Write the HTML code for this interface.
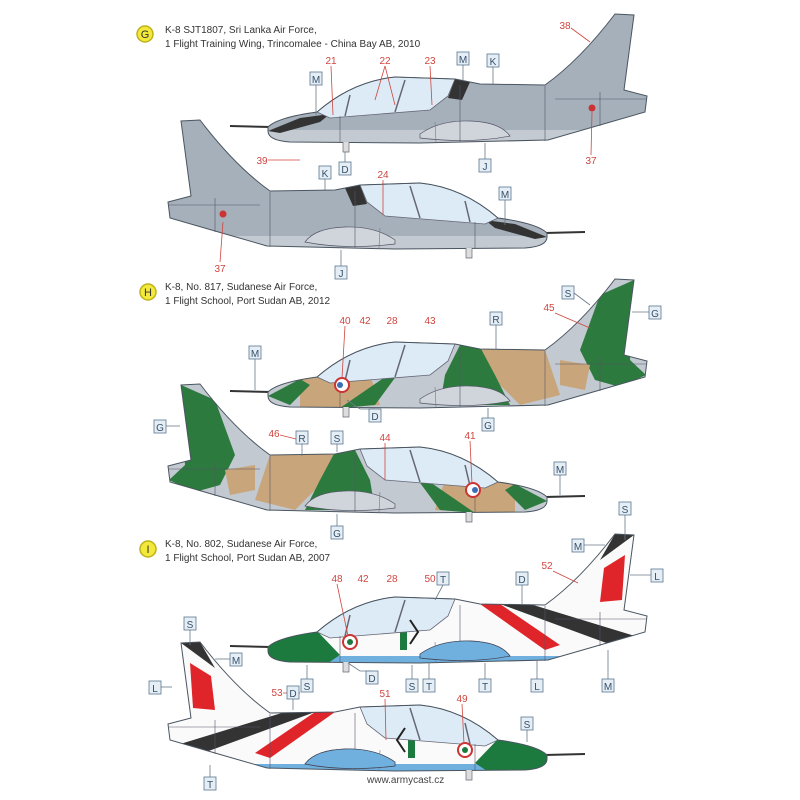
<!DOCTYPE html>
<html><head><meta charset="utf-8"><style>
html,body{margin:0;padding:0;background:#fff;}
svg{display:block;}
.t{font-family:"Liberation Sans",sans-serif;font-size:10px;fill:#333;}
.n{font-family:"Liberation Sans",sans-serif;font-size:10px;fill:#d0453f;text-anchor:middle;}
.b{font-family:"Liberation Sans",sans-serif;font-size:10px;fill:#35506a;text-anchor:middle;}
</style></head><body>
<svg width="800" height="800" viewBox="0 0 800 800" xmlns="http://www.w3.org/2000/svg">
<defs>
<path id="body" d="M268,127 C275,120 295,115 317,112 C340,92 365,80 395,77 L455,79 L480,84 L545,85 Q580,60 615,14 L634,15 L624,90 L647,96 L645,112 L600,125 L548,140 L420,143 L290,142 C275,141 268,137 268,131 Z"/>
<clipPath id="cb"><use href="#body"/></clipPath>
<g id="frame">
<path d="M317,112 C340,92 365,80 395,77 L455,79 L448,96 L430,110 L330,118 Z" fill="#dcebf5" stroke="#667" stroke-width="0.8"/>
<line x1="350" y1="95" x2="345" y2="116" stroke="#667" stroke-width="1.5"/>
<line x1="405" y1="80" x2="395" y2="112" stroke="#667" stroke-width="1.5"/>
<path d="M420,134 Q440,120 470,121 Q500,122 510,136 Q470,144 420,138 Z" fill="#cfd5da" stroke="#556" stroke-width="0.7"/>
<line x1="435" y1="122" x2="436" y2="142" stroke="#778" stroke-width="0.6"/>
<line x1="460" y1="85" x2="460" y2="142" stroke="#556" stroke-width="0.6"/>
<line x1="340" y1="116" x2="340" y2="142" stroke="#556" stroke-width="0.6"/>
<line x1="545" y1="86" x2="545" y2="141" stroke="#556" stroke-width="0.6"/>
<line x1="600" y1="92" x2="600" y2="126" stroke="#556" stroke-width="0.6"/>
<line x1="555" y1="99" x2="646" y2="99" stroke="#556" stroke-width="0.6"/>
<use href="#body" fill="none" stroke="#4a5560" stroke-width="1"/>
<path d="M343,142 L343,152 L349,152 L349,142" fill="#ddd" stroke="#667" stroke-width="0.7"/>
</g>
</defs>

<circle cx="145" cy="34" r="8" fill="#f3e93a" stroke="#bfb21c" stroke-width="1.5"/>
<text x="145" y="38" font-family="Liberation Sans" font-size="11" text-anchor="middle" fill="#333">G</text>
<text class="t" x="165" y="33">K-8 SJT1807, Sri Lanka Air Force,</text>
<text class="t" x="165" y="47">1 Flight Training Wing, Trincomalee - China Bay AB, 2010</text>

<circle cx="148" cy="292" r="8" fill="#f3e93a" stroke="#bfb21c" stroke-width="1.5"/>
<text x="148" y="296" font-family="Liberation Sans" font-size="11" text-anchor="middle" fill="#333">H</text>
<text class="t" x="165" y="290">K-8, No. 817, Sudanese Air Force,</text>
<text class="t" x="165" y="304">1 Flight School, Port Sudan AB, 2012</text>

<circle cx="148" cy="549" r="8" fill="#f3e93a" stroke="#bfb21c" stroke-width="1.5"/>
<text x="148" y="553" font-family="Liberation Sans" font-size="11" text-anchor="middle" fill="#333">I</text>
<text class="t" x="165" y="547">K-8, No. 802, Sudanese Air Force,</text>
<text class="t" x="165" y="561">1 Flight School, Port Sudan AB, 2007</text>

<g id="jg">
<line x1="230" y1="126" x2="270" y2="127" stroke="#333" stroke-width="2"/>
<use href="#body" fill="#a5b0bb"/>
<g clip-path="url(#cb)">
<rect x="260" y="130" width="400" height="20" fill="#c3cad1"/>
<path d="M268,131 L300,118 L330,114 L320,122 L280,133 Z" fill="#333"/>
<path d="M455,79 L470,82 L462,100 L448,98 Z" fill="#333"/>
</g>
<use href="#frame"/>
<circle cx="592" cy="108" r="3.5" fill="#c33"/>
</g>
<use href="#jg" transform="translate(815,106) scale(-1,1)"/>

<g id="jc" transform="translate(0,265)">
<line x1="230" y1="126" x2="270" y2="127" stroke="#333" stroke-width="2"/>
<use href="#body" fill="#c2c9d0"/>
<g clip-path="url(#cb)">
<path d="M300,110 L370,110 L380,140 L300,145 Z" fill="#c8a57a"/>
<path d="M480,84 L545,85 L560,130 L520,140 L500,120 Z" fill="#c8a57a"/>
<path d="M268,131 L300,114 L310,120 L290,140 Z" fill="#2d7a3e"/>
<path d="M385,112 L400,106 L375,140 L340,143 Z" fill="#2d7a3e"/>
<path d="M460,80 L480,82 L495,110 L510,140 L440,140 L445,110 Z" fill="#2d7a3e"/>
<path d="M600,30 L634,15 L630,95 L646,110 L620,122 L595,115 L580,85 Z" fill="#2d7a3e"/>
<path d="M560,95 L590,100 L585,125 L560,120 Z" fill="#c8a57a"/>
</g>
<use href="#frame"/>
<circle cx="342" cy="120" r="7" fill="#fff" stroke="#c33" stroke-width="2"/>
<circle cx="340" cy="120" r="3" fill="#3a6fb8"/>
</g>
<g transform="translate(815,370) scale(-1,1)">
<use href="#jc" transform="translate(0,-265)"/>
</g>

<g id="jw" transform="translate(0,520)">
<line x1="230" y1="126" x2="270" y2="127" stroke="#333" stroke-width="2"/>
<use href="#body" fill="#fafafa"/>
<g clip-path="url(#cb)">
<rect x="260" y="136" width="400" height="12" fill="#6fb0de"/>
<path d="M260,110 L318,112 L340,135 L325,145 L260,145 Z" fill="#1d7a3e"/>
<path d="M480,84 L500,84 L560,125 L545,130 Z" fill="#e0252a"/>
<path d="M500,84 L530,84 L648,120 L620,128 Z" fill="#333"/>
<path d="M604,48 L625,35 L622,80 L600,82 Z" fill="#e0252a"/>
<path d="M615,14 L634,15 L600,40 Z" fill="#333"/>
<rect x="400" y="100" width="7" height="30" fill="#1d7a3e"/>
</g>
<use href="#frame"/>
<path d="M420,134 Q440,120 470,121 Q500,122 510,136 Q470,144 420,138 Z" fill="#6fb0de" stroke="#445" stroke-width="0.7"/>
<circle cx="350" cy="122" r="7" fill="#fff" stroke="#c33" stroke-width="2"/>
<circle cx="350" cy="122" r="3" fill="#1d7a3e"/>
<path d="M410,100 L418,112 L410,124" fill="none" stroke="#222" stroke-width="2"/>
</g>
<g transform="translate(815,628) scale(-1,1)">
<use href="#jw" transform="translate(0,-520)"/>
</g>

<!-- leader lines -->
<g stroke="#6a7a88" stroke-width="0.8" fill="none">
<path d="M463,65 L463,80"/><path d="M493,67 L493,84"/><path d="M316,85 L316,115"/>
<path d="M485,159 L485,143"/><path d="M345,162 L345,152"/><path d="M325,179 L325,190"/>
<path d="M505,200 L505,225"/><path d="M341,266 L341,250"/>
<path d="M574,293 L590,305"/><path d="M649,312 L632,312"/><path d="M496,325 L496,350"/>
<path d="M255,359 L255,390"/><path d="M375,409 L360,409 L347,400"/><path d="M488,418 L488,408"/>
<path d="M166,426 L180,426"/><path d="M302,444 L302,456"/><path d="M337,444 L337,452"/>
<path d="M560,475 L560,495"/><path d="M337,526 L337,514"/><path d="M625,515 L625,540"/>
<path d="M584,545 L605,545"/><path d="M651,575 L630,575"/><path d="M443,585 L435,600"/><path d="M522,585 L522,605"/>
<path d="M190,630 L190,645"/><path d="M230,659 L215,659"/><path d="M307,679 L307,665"/>
<path d="M372,671 L360,671 L348,663"/><path d="M412,679 L412,665"/><path d="M429,679 L429,662"/>
<path d="M485,679 L485,663"/><path d="M537,679 L537,660"/><path d="M608,679 L608,650"/>
<path d="M161,687 L172,687"/><path d="M293,686 L293,710"/><path d="M527,730 L527,742"/><path d="M210,777 L210,765"/>
</g>
<g stroke="#d0453f" stroke-width="0.8" fill="none">
<path d="M571,28 L590,42"/><path d="M591,155 L592,112"/><path d="M268,160 L300,160"/><path d="M220,262 L223,222"/>
<path d="M385,66 L375,100 M385,66 L395,105"/><path d="M430,66 L432,105"/><path d="M331,66 L333,115"/><path d="M383,180 L383,215"/>
<path d="M555,313 L590,328"/><path d="M345,326 L342,378"/><path d="M280,435 L300,440"/><path d="M385,443 L385,480"/><path d="M470,441 L472,484"/>
<path d="M553,571 L578,583"/><path d="M283,693 L300,693"/><path d="M385,699 L386,740"/><path d="M462,704 L464,744"/><path d="M337,584 L348,636"/>
</g>

<g fill="#e6eef5" stroke="#5a7590" stroke-width="0.8">
<rect x="457" y="52" width="12" height="13"/><rect x="487" y="54" width="12" height="13"/><rect x="310" y="72" width="12" height="13"/>
<rect x="479" y="159" width="12" height="13"/><rect x="339" y="162" width="12" height="13"/><rect x="319" y="166" width="12" height="13"/>
<rect x="499" y="187" width="12" height="13"/><rect x="335" y="266" width="12" height="13"/>
<rect x="562" y="286" width="12" height="13"/><rect x="649" y="306" width="12" height="13"/><rect x="490" y="312" width="12" height="13"/>
<rect x="249" y="346" width="12" height="13"/><rect x="369" y="409" width="12" height="13"/><rect x="482" y="418" width="12" height="13"/>
<rect x="154" y="420" width="12" height="13"/><rect x="296" y="431" width="12" height="13"/><rect x="331" y="431" width="12" height="13"/>
<rect x="554" y="462" width="12" height="13"/><rect x="331" y="526" width="12" height="13"/><rect x="619" y="502" width="12" height="13"/>
<rect x="572" y="539" width="12" height="13"/><rect x="651" y="569" width="12" height="13"/><rect x="437" y="572" width="12" height="13"/><rect x="516" y="572" width="12" height="13"/>
<rect x="184" y="617" width="12" height="13"/><rect x="230" y="653" width="12" height="13"/><rect x="301" y="679" width="12" height="13"/>
<rect x="366" y="671" width="12" height="13"/><rect x="406" y="679" width="12" height="13"/><rect x="423" y="679" width="12" height="13"/>
<rect x="479" y="679" width="12" height="13"/><rect x="531" y="679" width="12" height="13"/><rect x="602" y="679" width="12" height="13"/>
<rect x="149" y="681" width="12" height="13"/><rect x="287" y="686" width="12" height="13"/><rect x="521" y="717" width="12" height="13"/><rect x="204" y="777" width="12" height="13"/>
</g>
<g class="b">
<text x="463" y="63">M</text><text x="493" y="65">K</text><text x="316" y="83">M</text>
<text x="485" y="170">J</text><text x="345" y="173">D</text><text x="325" y="177">K</text>
<text x="505" y="198">M</text><text x="341" y="277">J</text>
<text x="568" y="297">S</text><text x="655" y="317">G</text><text x="496" y="323">R</text>
<text x="255" y="357">M</text><text x="375" y="420">D</text><text x="488" y="429">G</text>
<text x="160" y="431">G</text><text x="302" y="442">R</text><text x="337" y="442">S</text>
<text x="560" y="473">M</text><text x="337" y="537">G</text><text x="625" y="513">S</text>
<text x="578" y="550">M</text><text x="657" y="580">L</text><text x="443" y="583">T</text><text x="522" y="583">D</text>
<text x="190" y="628">S</text><text x="236" y="664">M</text><text x="307" y="690">S</text>
<text x="372" y="682">D</text><text x="412" y="690">S</text><text x="429" y="690">T</text>
<text x="485" y="690">T</text><text x="537" y="690">L</text><text x="608" y="690">M</text>
<text x="155" y="692">L</text><text x="293" y="697">D</text><text x="527" y="728">S</text><text x="210" y="788">T</text>
</g>
<g class="n">
<text x="331" y="64">21</text><text x="385" y="64">22</text><text x="430" y="64">23</text><text x="565" y="29">38</text>
<text x="591" y="164">37</text><text x="262" y="164">39</text><text x="383" y="178">24</text><text x="220" y="272">37</text>
<text x="549" y="311">45</text><text x="345" y="324">40</text><text x="365" y="324">42</text><text x="392" y="324">28</text><text x="430" y="324">43</text>
<text x="274" y="437">46</text><text x="385" y="441">44</text><text x="470" y="439">41</text>
<text x="547" y="569">52</text><text x="337" y="582">48</text><text x="363" y="582">42</text><text x="392" y="582">28</text><text x="430" y="582">50</text>
<text x="277" y="696">53</text><text x="385" y="697">51</text><text x="462" y="702">49</text>
</g>
<text x="367" y="783" font-family="Liberation Sans" font-size="10" fill="#444">www.armycast.cz</text>
</svg>
</body></html>
